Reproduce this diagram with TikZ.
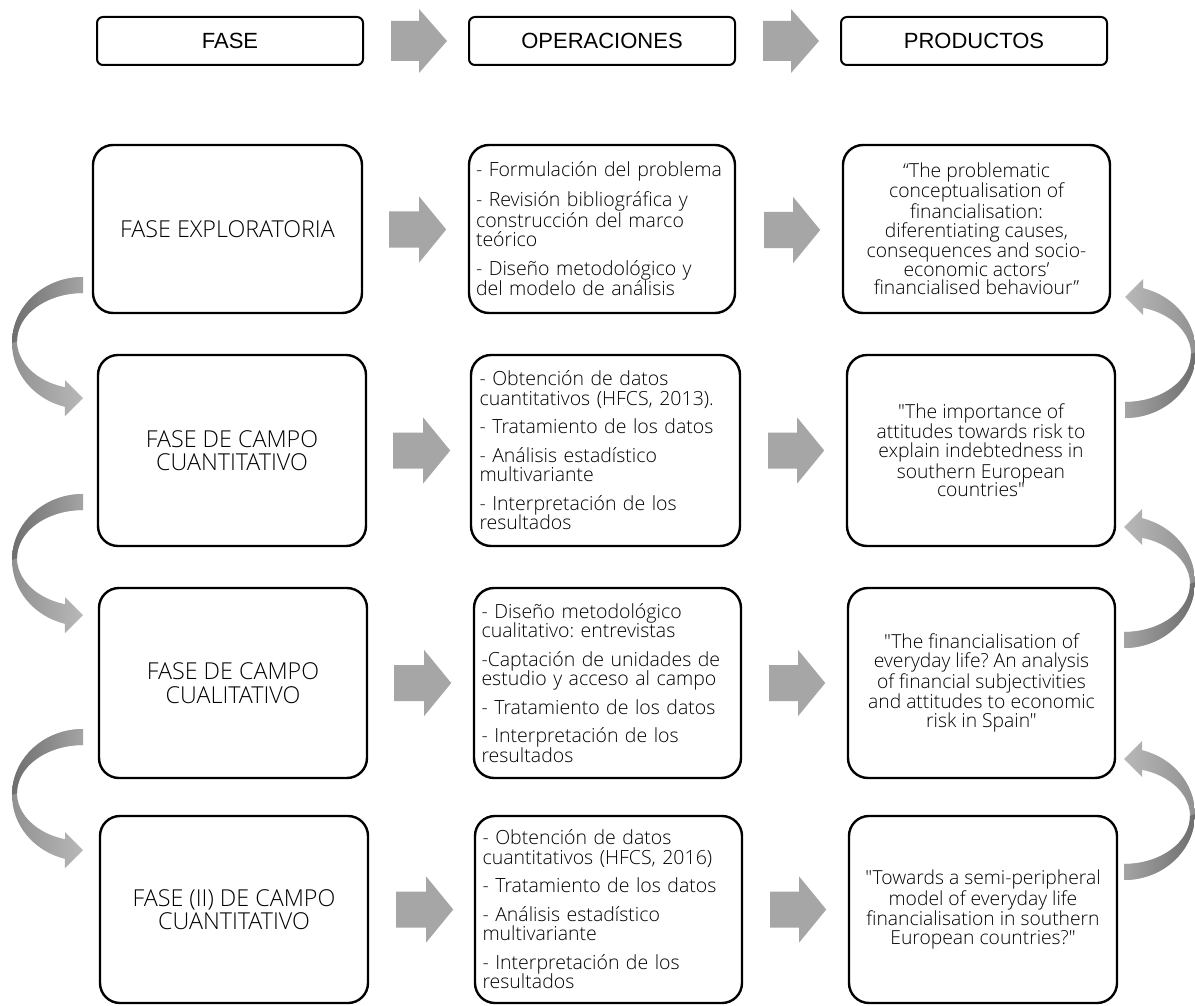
\documentclass[tikz,border=0pt]{standalone}
\usepackage{fontspec}
\usetikzlibrary{calc}
\newfontfamily\hdrfont{Liberation Sans}
\IfFontExistsTF{Open Sans Light}
  {\newfontfamily\bodyfont{Open Sans Light}}
  {\newfontfamily\bodyfont{Open Sans}}
\frenchspacing

\definecolor{arrowgray}{HTML}{A6A6A6}
\definecolor{bendA}{HTML}{909090}
\definecolor{bendB}{HTML}{B8B8B8}
\definecolor{bendC}{HTML}{6E6E6E}
\definecolor{bendD}{HTML}{A4A4A4}

\tikzset{
  hdrbox/.style={draw, line width=2pt, rounded corners=6pt,
    minimum width=266pt, minimum height=48pt, inner sep=0pt,
    font=\hdrfont\fontsize{22}{24}\selectfont},
  stagebox/.style={draw, line width=2.4pt, rounded corners=20pt,
    inner sep=0pt, align=center},
  fasetext/.style={font=\bodyfont\fontsize{23.3}{23.5}\selectfont},
  optext/.style={font=\bodyfont\fontsize{19.5}{19.5}\selectfont,
    align=left, text width=252pt},
  prodtext/.style={font=\bodyfont\fontsize{19.3}{18.8}\selectfont,
    align=center},
  % straight block arrow: total length / shaft length / shaft half-height / head half-height
  pics/blockarrow/.style args={#1/#2/#3/#4}{code={
    \fill[arrowgray] (0,-#3) -- (#2,-#3) -- (#2,-#4) -- (#1,0)
      -- (#2,#4) -- (#2,#3) -- (0,#3) -- cycle;
  }},
  % curved ribbon arrow, tail at the origin, head pointing back to the same side
  pics/bendarrow/.style args={#1/#2/#3/#4}{code={
    \shade[left color=#1, right color=#2]
      (0,0) arc[start angle=-90, end angle=-255.3, x radius=71, y radius=66]
      -- (-18,139) -- (0,121) -- (-18,103) -- (-18,110.2)
      arc[start angle=-254.2, end angle=-90, x radius=66, y radius=48]
      -- cycle;
    \shade[left color=#3, right color=#4]
      (0,0) arc[start angle=-90, end angle=-180, x radius=71, y radius=66]
      -- (-66,64)
      arc[start angle=-180, end angle=-90, x radius=66, y radius=48]
      -- cycle;
  }}
}

\begin{document}
\begin{tikzpicture}[x=1pt,y=-1pt]
\fill[white] (0,0) rectangle (1195,1006);
\useasboundingbox (0,0) rectangle (1195,1006);

% column headers
\node[hdrbox] (hF) at (230,41) {FASE};
\node[hdrbox] (hO) at (602,41) {OPERACIONES};
\node[hdrbox] (hP) at (974,41) {PRODUCTOS};
\pic at ($(hF.east)+(27,0)$) {blockarrow=56/28/20/32};
\pic at ($(hO.east)+(27,0)$) {blockarrow=56/28/20/32};

% row 1
\node[stagebox, fasetext, minimum width=269, minimum height=168] (f1) at (227.5,229)
  {FASE EXPLORATORIA};
\node[stagebox, optext, minimum width=266, minimum height=168] (o1) at (602,229)
  {- Formulación del problema\\[9pt]- Revisión bibliográfica y\\construcción del marco\\teórico\\[9pt]- Diseño metodológico y\\del modelo de análisis};
\node[stagebox, prodtext, minimum width=267, minimum height=168] (p1) at (976.5,229)
  {“The problematic\\conceptualisation of\\financialisation:\\diferentiating causes,\\consequences and socio-\\economic actors’\\financialised behaviour”};

% row 2
\node[stagebox, fasetext, minimum width=268, minimum height=191] (f2) at (232,450.5)
  {FASE DE CAMPO\\CUANTITATIVO};
\node[stagebox, optext, minimum width=269, minimum height=191] (o2) at (605.5,450.5)
  {- Obtención de datos\\cuantitativos (HFCS, 2013).\\[9pt]- Tratamiento de los datos\\[9pt]- Análisis estadístico\\multivariante\\[9pt]- Interpretación de los\\resultados};
\node[stagebox, prodtext, minimum width=268, minimum height=191] (p2) at (981,450.5)
  {"The importance of\\attitudes towards risk to\\explain indebtedness in\\southern European\\countries"};

% row 3
\node[stagebox, fasetext, minimum width=268, minimum height=190] (f3) at (233,683)
  {FASE DE CAMPO\\CUALITATIVO};
\node[stagebox, optext, minimum width=267, minimum height=190] (o3) at (607.5,683)
  {- Diseño metodológico\\cualitativo: entrevistas\\[9pt]-Captación de unidades de\\estudio y acceso al campo\\[9pt]- Tratamiento de los datos\\[9pt]- Interpretación de los\\resultados};
\node[stagebox, prodtext, minimum width=267, minimum height=190] (p3) at (981.5,683)
  {"The financialisation of\\everyday life? An analysis\\of financial subjectivities\\and attitudes to economic\\risk in Spain"};

% row 4
\node[stagebox, fasetext, minimum width=268, minimum height=187] (f4) at (234,909.5)
  {FASE (II) DE CAMPO\\CUANTITATIVO};
\node[stagebox, optext, minimum width=267, minimum height=187] (o4) at (608.5,909.5)
  {- Obtención de datos\\cuantitativos (HFCS, 2016)\\[9pt]- Tratamiento de los datos\\[9pt]- Análisis estadístico\\multivariante\\[9pt]- Interpretación de los\\resultados};
\node[stagebox, prodtext, minimum width=268, minimum height=187] (p4) at (983,909.5)
  {"Towards a semi-peripheral\\model of everyday life\\financialisation in southern\\European countries?"};

% block arrows between columns
\pic at ($(f1.east)+(26,0.5)$) {blockarrow=57/30/18/33};
\pic at ($(o1.east)+(28,1)$)   {blockarrow=56/29/18/33};
\pic at ($(f2.east)+(26,0)$)   {blockarrow=57/30/18/33};
\pic at ($(o2.east)+(27,0)$)   {blockarrow=56/29/18/33};
\pic at ($(f3.east)+(26,0)$)   {blockarrow=57/30/18/33};
\pic at ($(o3.east)+(27,0)$)   {blockarrow=56/29/18/33};
\pic at ($(f4.east)+(27,0)$)   {blockarrow=57/30/18/33};
\pic at ($(o4.east)+(27,0)$)   {blockarrow=56/29/18/33};

% curved arrows down the left side
\pic at (83,277) {bendarrow=bendA/bendB/bendC/bendD};
\pic at (83,494) {bendarrow=bendA/bendB/bendC/bendD};
\pic at (83,729) {bendarrow=bendA/bendB/bendC/bendD};

% curved arrows up the right side
\pic[rotate=180] at (1125,418) {bendarrow=bendB/bendA/bendD/bendC};
\pic[rotate=180] at (1124,648) {bendarrow=bendB/bendA/bendD/bendC};
\pic[rotate=180] at (1124,880) {bendarrow=bendB/bendA/bendD/bendC};
\end{tikzpicture}
\end{document}
